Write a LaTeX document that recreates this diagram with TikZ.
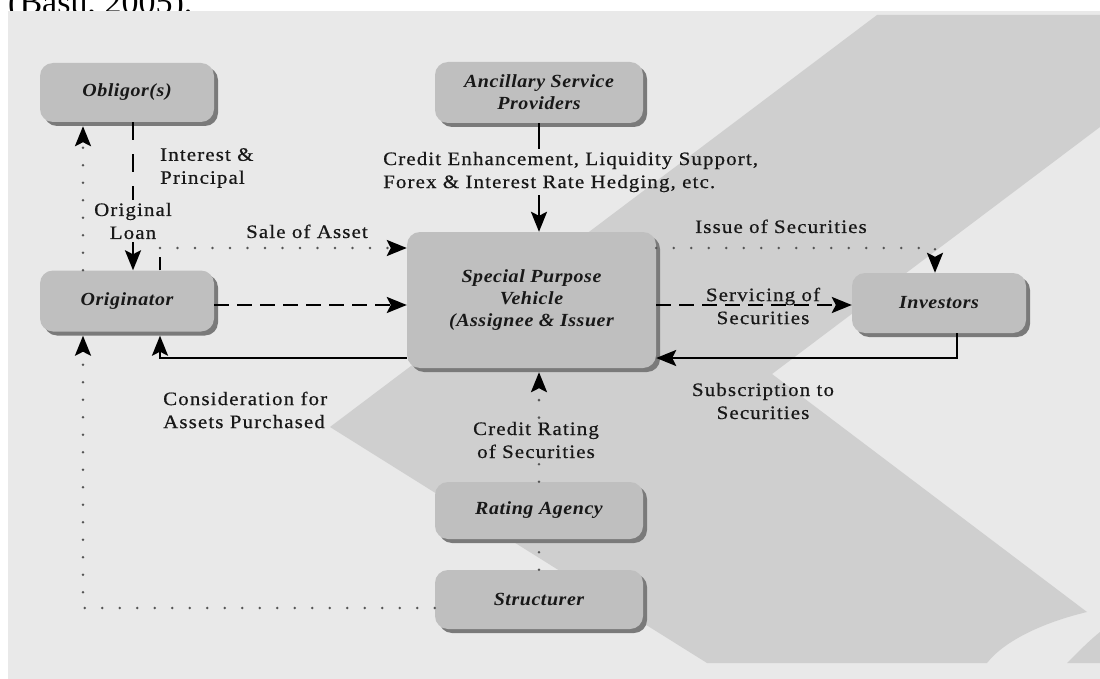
\documentclass[tikz,border=0pt]{standalone}
\usepackage{fontspec}
\setmainfont{Liberation Serif}
\newfontfamily\lblfont[FakeStretch=1.1,LetterSpace=6,FakeBold=0.6]{Liberation Serif}
\newfontfamily\boxfontfam[FakeStretch=1.08,LetterSpace=3]{Liberation Serif}
\usetikzlibrary{arrows.meta,calc,shadows}
\definecolor{bg}{HTML}{E9E9E9}
\definecolor{band}{HTML}{CFCFCF}
\definecolor{boxfill}{HTML}{BFBFBF}
\definecolor{boxshadow}{HTML}{7A7A7A}
\definecolor{dotcol}{HTML}{555555}
\definecolor{ink}{HTML}{181818}
\tikzset{
  >={Stealth[length=20pt,width=16pt,inset=4pt,color=black]},
  entity/.style={fill=boxfill, rounded corners=13pt, inner sep=0pt, align=center, text=ink,
    font=\boxfontfam\bfseries\itshape\fontsize{18.5}{22}\selectfont,
    drop shadow={shadow xshift=4pt, shadow yshift=-4pt, fill=boxshadow, opacity=1}},
  lbl/.style={font=\lblfont\fontsize{19}{23}\selectfont, text=ink, inner sep=0pt},
  dotline/.style={draw=dotcol, line width=2.8pt, line cap=round, dash pattern=on 0pt off 17.5pt},
  dashvert/.style={draw=black, line width=2.6pt, dash pattern=on 18pt off 14pt},
  dashlong/.style={draw=black, line width=2.6pt, dash pattern=on 15pt off 8pt},
  solidline/.style={draw=black, line width=2.4pt},
  arrowend/.style={->}
}
\begin{document}
\begin{tikzpicture}[x=1pt,y=-1pt]
\useasboundingbox (0,0) rectangle (1100,679);
\fill[white] (0,0) rectangle (1100,679);
% cut-off caption above the figure
\node[anchor=base west, inner sep=0pt, font=\fontsize{34}{38}\selectfont] (cap) at (8,14) {(Basu, 2005).};
% background
\fill[bg] (8,11) rectangle (1100,679);
\fill[band] (877,15) -- (1100,15) -- (1100,127) -- (772,374) -- (1087,612)
  .. controls (1045,622) and (1005,640) .. (987,663) -- (707,663) -- (330,427) -- cycle;
\fill[band] (1067,663) .. controls (1080,650) and (1090,640) .. (1100,632) -- (1100,663) -- cycle;

% boxes
\node[entity, minimum width=174pt, minimum height=59pt] (obl) at (127,92.5) {Obligor(s)};
\node[entity, minimum width=208pt, minimum height=61pt] (anc) at (539,92.5) {Ancillary Service\\Providers};
\node[entity, minimum width=174pt, minimum height=61pt] (orig) at (127,301) {Originator};
\node[entity, minimum width=249pt, minimum height=136pt] (spv) at (531.5,300) {Special Purpose\\Vehicle\\(Assignee \& Issuer};
\node[entity, minimum width=174pt, minimum height=60pt] (inv) at (939,303) {Investors};
\node[entity, minimum width=208pt, minimum height=57pt] (rat) at (539,510.5) {Rating Agency};
\node[entity, minimum width=208pt, minimum height=59pt] (str) at (539,599.5) {Structurer};

% labels
\node[lbl, align=left, anchor=west] (intp) at (160,168) {Interest \&\\Principal};
\node[lbl, align=center, inner sep=3pt] (loan) at (133,221) {Original\\Loan};
\node[lbl, anchor=base] (sale) at (307,238) {Sale of Asset};
\node[lbl, align=left, anchor=west, inner sep=3pt] (enh) at (380,172) {Credit Enhancement, Liquidity Support,\\Forex \& Interest Rate Hedging, etc.};
\node[lbl, anchor=base] (issue) at (781,233) {Issue of Securities};
\node[lbl, align=center] (serv) at (763,306) {Servicing of\\Securities};
\node[lbl, align=left, anchor=west] (cons) at (163,410) {Consideration for\\Assets Purchased};
\node[lbl, align=center] (subs) at (763,401) {Subscription to\\Securities};
\node[lbl, align=center, inner sep=4pt] (crat) at (536,440) {Credit Rating\\of Securities};

% coordinates
\coordinate (saleA) at (160,248);
\coordinate (consA) at (160,358);
\coordinate (subA) at (957,358);
\coordinate (issA) at (935,248);
\coordinate (strA) at (83,608);

% Obligor -> Originator (interest & principal / original loan)
\draw[dashvert] (loan.north |- obl.south) -- (loan.north);
\draw[dashvert, arrowend] (loan.south) -- (loan.south |- orig.north);
% Ancillary -> SPV
\draw[solidline] (anc.south) -- (anc.south |- enh.north);
\draw[solidline, arrowend] (anc.south |- enh.south) -- (anc.south |- spv.north);
% Sale of asset
\draw[solidline] (orig.north -| saleA) -- ++(0,-13);
\draw[dotline, arrowend] (saleA) -- (saleA -| spv.west);
% Originator -> SPV
\draw[dashlong, arrowend] ($(orig.east)+(0,4)$) -- ($(spv.west)+(0,5)$);
% SPV -> Originator (consideration)
\draw[solidline, arrowend] (spv.west |- consA) -- (consA) -- ($(consA |- orig.south)+(0,4)$);
% Servicing of securities
\draw[dashlong, arrowend] ($(spv.east |- inv.west)+(0,2)$) -- ($(inv.west)+(0,2)$);
% Investors -> SPV (subscription)
\draw[solidline, arrowend] (inv.south -| subA) -- (subA) -- (subA -| spv.east);
% Issue of securities
\draw[dotline, arrowend] (issA -| spv.east) -- (issA) -- (issA |- inv.north);
% Rating agency -> SPV
\draw[dotline] (rat.north) -- (rat.north |- crat.south);
\draw[dotline, arrowend] (rat.north |- crat.north) -- ($(rat.north |- spv.south)+(0,4)$);
% Structurer -> Rating agency
\draw[dotline] (str.north) -- ($(rat.south)+(0,4)$);
% Structurer -> Originator -> Obligor
\draw[dotline, arrowend] ($(str.west)+(0,8.5)$) -- (strA) -- ($(strA |- orig.south)+(0,4)$);
\draw[dotline, arrowend] (strA |- orig.north) -- ($(strA |- obl.south)+(0,4)$);
\end{tikzpicture}
\end{document}
